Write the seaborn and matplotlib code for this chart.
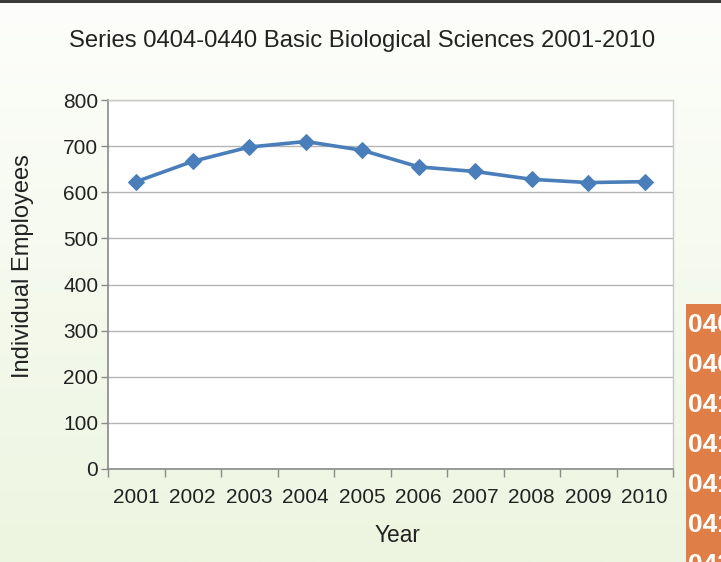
import matplotlib
matplotlib.use("Agg")
import matplotlib.pyplot as plt
import numpy as np
import pandas as pd
import seaborn as sns
from matplotlib.patches import Rectangle

# data
years = ["2001", "2002", "2003", "2004", "2005", "2006", "2007", "2008", "2009", "2010"]
employees = [623, 667, 698, 710, 691, 655, 645, 628, 621, 623]
y_ticks = [0, 100, 200, 300, 400, 500, 600, 700, 800]
side_rows = ["0403", "0405", "0410", "0413", "0414", "0415", "0430"]

W, H = 721, 562

sns.set_theme(style="white")
plt.rcParams['font.family'] = ['Liberation Sans', 'DejaVu Sans']

fig = plt.figure(figsize=(W / 100, H / 100), dpi=100)

# background: pale green vertical gradient
bg = fig.add_axes([0, 0, 1, 1], zorder=-5)
top_c = np.array(matplotlib.colors.to_rgb("#fdfefb"))
bot_c = np.array(matplotlib.colors.to_rgb("#edf5e0"))
t = np.linspace(0, 1, 256)[:, None]
grad = top_c[None, :] * (1 - t) + bot_c[None, :] * t
bg.imshow(grad[:, None, :], aspect="auto", extent=[0, 1, 0, 1])
bg.add_patch(Rectangle((0, 1 - 3 / H), 1, 3 / H, color="#3a3a3a", lw=0))
# orange strip of the neighbouring table (cut off at the right edge)
bg.add_patch(Rectangle((686 / W, 0), 1, (H - 304) / H, color="#df7f47", lw=0))
bg.set_xlim(0, 1)
bg.set_ylim(0, 1)
bg.axis("off")
for i, s in enumerate(side_rows):
    fig.text(688 / W, 1 - (325 + 40 * i) / H, s, color="white", fontsize=19,
             fontweight="bold", va="center", ha="left")

left, right, top, bottom = 108, 673, 100, 469
ax = fig.add_axes([left / W, 1 - bottom / H, (right - left) / W, (bottom - top) / H])
ax.set_facecolor("white")

df = pd.DataFrame({"Year": years, "Employees": employees})
sns.lineplot(data=df, x="Year", y="Employees", ax=ax, color="#4a7ebb",
             linewidth=2.6, marker="D", markersize=8.5, markeredgecolor="#4a7ebb")

ax.set_xlim(-0.5, len(years) - 0.5)
ax.set_ylim(0, 800)
ax.set_yticks(y_ticks)
ax.yaxis.grid(True, color="#b4b4b4", linewidth=1)
ax.set_axisbelow(True)
ax.set_xticks(range(len(years)))
ax.set_xticklabels(years)
ax.set_xticks(np.arange(-0.5, len(years), 1), minor=True)
ax.tick_params(axis="x", which="major", length=0, pad=14, labelsize=15, labelcolor="#222222")
ax.tick_params(axis="x", which="minor", length=6, width=1, color="#8a8a8a", direction="out", bottom=True)
ax.tick_params(axis="y", length=5, width=1, color="#8a8a8a", direction="out", left=True,
               pad=2, labelsize=15, labelcolor="#222222")
ax.set_xlabel("")
ax.set_ylabel("")
for side in ["left", "bottom"]:
    ax.spines[side].set_color("#8a8a8a")
    ax.spines[side].set_linewidth(1.2)
for side in ["top", "right"]:
    ax.spines[side].set_color("#c8c8c8")
    ax.spines[side].set_linewidth(1)

fig.text(362 / W, 1 - 41 / H, "Series 0404-0440 Basic Biological Sciences 2001-2010",
         ha="center", va="center", fontsize=17.2, color="#222222")
fig.text(23.5 / W, 1 - 266 / H, "Individual Employees", rotation=90,
         ha="center", va="center", fontsize=17, color="#222222")
fig.text(397 / W, 1 - 535 / H, "Year", ha="center", va="center", fontsize=16.4, color="#222222")

fig.savefig("out.png", dpi=100)
